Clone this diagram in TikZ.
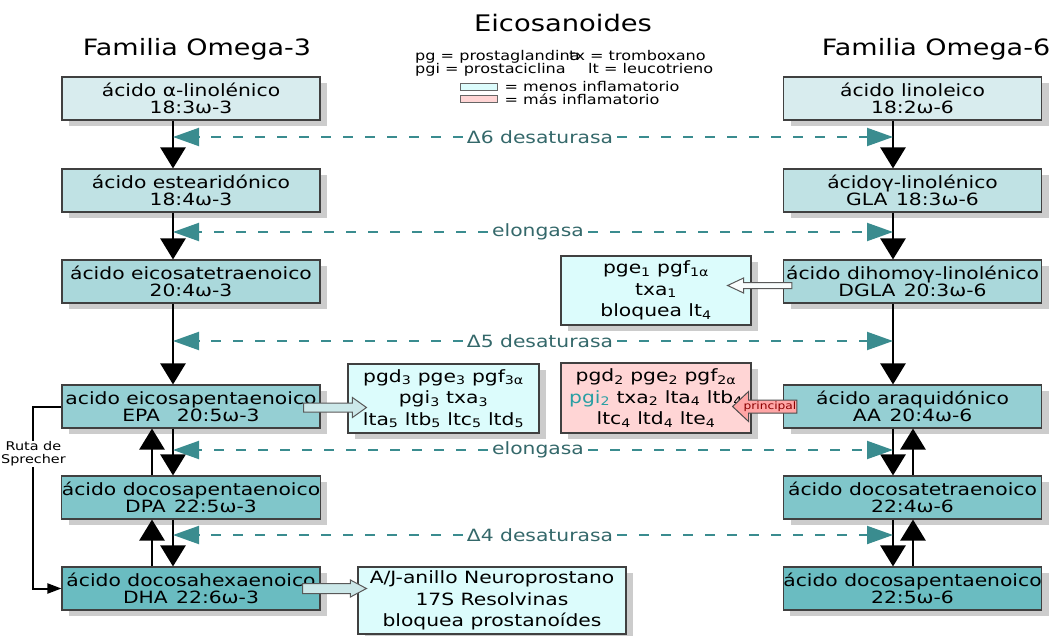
\documentclass[tikz,border=0pt]{standalone}
\usepackage{fontspec}
\setmainfont{DejaVu Sans}[FakeStretch=1.2]
\usetikzlibrary{arrows.meta,calc,positioning,shadows}

\definecolor{omegaa}{HTML}{D8ECEE}
\definecolor{omegab}{HTML}{C0E2E4}
\definecolor{omegac}{HTML}{AAD8DB}
\definecolor{omegad}{HTML}{95CFD3}
\definecolor{omegae}{HTML}{80C6CA}
\definecolor{omegaf}{HTML}{6ABCC1}
\definecolor{menosinfl}{HTML}{DCFCFC}
\definecolor{masinfl}{HTML}{FFD5D5}
\definecolor{enzteal}{HTML}{3A8C8F}
\definecolor{enztext}{HTML}{34686A}
\definecolor{pgiteal}{HTML}{2A9FA3}

\newcommand{\subi}[1]{\textsubscript{#1}}
% horizontal block arrow: style, from, to, shaft half, head half, head length
\newcommand{\blockarrow}[6]{%
  \draw[#1] let \p1=(#2), \p2=(#3), \n1={\x2-ifthenelse(\x2>\x1,1,-1)*#6} in
    (\x1,\y1+#4) -- (\n1,\y1+#4) -- (\n1,\y1+#5) -- (\x2,\y1)
    -- (\n1,\y1-#5) -- (\n1,\y1-#4) -- (\x1,\y1-#4) -- cycle;}

\begin{document}
\begin{tikzpicture}[x=1pt, y=-1pt,
acidnode/.style={rectangle, draw=black!75, line width=1.1pt, minimum width=258pt, minimum height=43pt, inner sep=0pt, align=center, font=\fontsize{16.9}{16.8}\selectfont, drop shadow={shadow xshift=7pt, shadow yshift=-6pt, fill=black!20, opacity=1}},
eiconode/.style={rectangle, draw=black!75, line width=1.1pt, inner sep=0pt, align=center, font=\fontsize{16.9}{21.5}\selectfont, drop shadow={shadow xshift=7pt, shadow yshift=-6pt, fill=black!20, opacity=1}},
flow/.style={line width=2.5pt, -{Triangle[width=25pt,length=21pt]}},
enzyme/.style={enzteal, line width=2pt, dash pattern=on 10pt off 12pt, -{Triangle[width=18pt,length=26pt]}},
enzlabel/.style={text=enztext, inner sep=4pt, font=\fontsize{16.9}{17}\selectfont},
legtext/.style={inner sep=0pt, font=\fontsize{13.4}{14}\selectfont},
legbox/.style={rectangle, draw=black!60, line width=0.8pt, minimum width=37pt, minimum height=7pt, inner sep=0pt},
hollow/.style={draw=black!65, line width=1pt, line join=miter},
sprecher/.style={line width=2pt, -{Triangle[width=10pt,length=14pt]}},
]
\useasboundingbox (0,0) rectangle (1064,636);

%Titles and legend
\node[anchor=base, font=\fontsize{22.8}{23}\selectfont] (title) at (563,32) {Eicosanoides};
\node[anchor=base, font=\fontsize{22.5}{23}\selectfont] (omega3) at (197,56) {Familia Omega-3};
\node[anchor=base, font=\fontsize{22.5}{23}\selectfont] (omega6) at (936,56) {Familia Omega-6};
\node[legtext, anchor=base west] (pg) at (415,61) {pg = prostaglandina};
\node[legtext, anchor=base west] (tx) at (569,61) {tx = tromboxano};
\node[legtext, anchor=base west] (pgi) at (415,74) {pgi = prostaciclina};
\node[legtext, anchor=base west] (lt) at (588,74) {lt = leucotrieno};
\node[legbox, fill=menosinfl] (lowkey) at (478.5,86.5) {};
\node[legbox, fill=masinfl] (highkey) at (478.5,99) {};
\node[legtext, right=7pt of lowkey] (lowtext) {= menos inflamatorio};
\node[legtext, right=7pt of highkey] (hightext) {= más inflamatorio};

%Omega-3 nodes
\node[acidnode, fill=omegaa] (ala) at (191,98.5) {ácido α-linolénico\\18:3ω-3};
\node[acidnode, fill=omegab] (sda) at (191,190.5) {ácido estearidónico\\18:4ω-3};
\node[acidnode, fill=omegac] (eta) at (191,281.5) {ácido eicosatetraenoico\\20:4ω-3};
\node[acidnode, fill=omegad] (epa) at (191,406.5) {acido eicosapentaenoico\\EPA\quad 20:5ω-3};
\node[acidnode, fill=omegae] (dpa) at (191,497.5) {ácido docosapentaenoico\\DPA\enspace 22:5ω-3};
\node[acidnode, fill=omegaf] (dha) at (191,588.5) {ácido docosahexaenoico\\DHA\enspace 22:6ω-3};

%Omega-6 nodes
\node[acidnode, fill=omegaa] (la) at (912.5,98.5) {ácido linoleico\\18:2ω-6};
\node[acidnode, fill=omegab] (gla) at (912.5,190.5) {ácidoγ-linolénico\\GLA\enspace 18:3ω-6};
\node[acidnode, fill=omegac] (dgla) at (912.5,281.5) {ácido dihomoγ-linolénico\\DGLA\enspace 20:3ω-6};
\node[acidnode, fill=omegad] (aa) at (912.5,406.5) {ácido araquidónico\\AA\enspace 20:4ω-6};
\node[acidnode, fill=omegae] (dta) at (912.5,497.5) {ácido docosatetraenoico\\22:4ω-6};
\node[acidnode, fill=omegaf] (dpasix) at (912.5,588.5) {ácido docosapentaenoico\\22:5ω-6};

%Eicosanoid nodes
\node[eiconode, fill=menosinfl, minimum width=190pt, minimum height=69pt] (pgeone) at (656,290.5) {pge\subi{1} pgf\subi{1α}\\txa\subi{1}\\bloquea lt\subi{4}};
\node[eiconode, fill=masinfl, minimum width=190pt, minimum height=70pt] (pgdtwo) at (656,398) {pgd\subi{2} pge\subi{2} pgf\subi{2α}\\\textcolor{pgiteal}{pgi\subi{2}} txa\subi{2} lta\subi{4} ltb\subi{4}\\ltc\subi{4} ltd\subi{4} lte\subi{4}};
\node[eiconode, fill=menosinfl, minimum width=191pt, minimum height=69pt] (pgdthree) at (443.5,398.5) {pgd\subi{3} pge\subi{3} pgf\subi{3α}\\pgi\subi{3} txa\subi{3}\\lta\subi{5} ltb\subi{5} ltc\subi{5} ltd\subi{5}};
\node[eiconode, fill=menosinfl, minimum width=268pt, minimum height=67pt] (resolv) at (492,600.5) {A/J-anillo Neuroprostano\\17S Resolvinas\\bloquea prostanoídes};

%Columns
\coordinate (lcol) at (173,0);
\coordinate (lup) at (152,0);
\coordinate (rcol) at (893,0);
\coordinate (rup) at (913,0);

%Lines
\draw[flow] (ala.south -| lcol) -- (sda.north -| lcol);
\draw[flow] (sda.south -| lcol) -- (eta.north -| lcol);
\draw[flow] (eta.south -| lcol) -- (epa.north -| lcol);
\draw[flow] (epa.south -| lcol) -- (dpa.north -| lcol);
\draw[flow] (dpa.south -| lcol) -- (dha.north -| lcol);
\draw[flow] (dpa.north -| lup) -- (epa.south -| lup);
\draw[flow] (dha.north -| lup) -- (dpa.south -| lup);
\draw[flow] (la.south -| rcol) -- (gla.north -| rcol);
\draw[flow] (gla.south -| rcol) -- (dgla.north -| rcol);
\draw[flow] (dgla.south -| rcol) -- (aa.north -| rcol);
\draw[flow] (aa.south -| rcol) -- (dta.north -| rcol);
\draw[flow] (dta.south -| rcol) -- (dpasix.north -| rcol);
\draw[flow] (dta.north -| rup) -- (aa.south -| rup);
\draw[flow] (dpasix.north -| rup) -- (dta.south -| rup);

%Enzymes
\node[enzlabel] (d6) at (540,137) {Δ6 desaturasa};
\node[enzlabel] (elo1) at (538,232) {elongasa};
\node[enzlabel] (d5) at (540,341) {Δ5 desaturasa};
\node[enzlabel] (elo2) at (538,450) {elongasa};
\node[enzlabel] (d4) at (540,535) {Δ4 desaturasa};
\foreach \enz in {d6,elo1,d5,elo2,d4} {
  \draw[enzyme] (\enz.west) -- (\enz.west -| lcol);
  \draw[enzyme] (\enz.east) -- (\enz.east -| rcol);
}

%Block arrows
\blockarrow{hollow, fill=white!85!omegaa}{[xshift=9pt,yshift=-4pt]dgla.west}{[xshift=-24pt]pgeone.east}{3}{7.5}{16}
\blockarrow{hollow, fill=white!40!omegac}{[xshift=-17pt,yshift=-1pt]epa.east}{[xshift=19pt]pgdthree.west}{4.5}{10}{14}
\blockarrow{hollow, fill=white!40!omegac}{[xshift=-18pt]dha.east}{[xshift=9pt]resolv.west}{5}{8.5}{16}
\blockarrow{hollow, fill=red!35!white, draw=black!70}{[xshift=14pt]aa.west}{[xshift=-19pt]pgdtwo.east}{6.5}{15}{16}
\node[inner sep=0pt, text=red!55!black, font=\fontsize{10.2}{11}\selectfont] (princ) at ([xshift=-13pt]aa.west) {principal};

%Ruta de Sprecher
\draw[sprecher] (epa.west) -- ++(-28,0) |- node[pos=0.13, fill=white, inner sep=1pt, align=center, font=\fontsize{12}{12.5}\selectfont] (ruta) {Ruta de\\Sprecher} (dha.west);

\end{tikzpicture}
\end{document}
